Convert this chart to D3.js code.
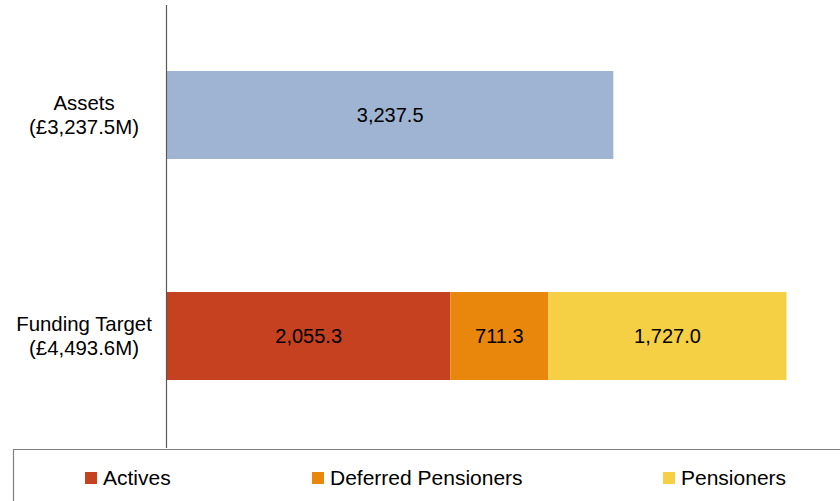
<!DOCTYPE html>
<html>
<head>
<meta charset="utf-8">
<script src="https://cdnjs.cloudflare.com/ajax/libs/d3/7.8.5/d3.min.js"></script>
<style>
  body { margin: 0; background: #fff; }
  text { font-family: "Liberation Sans", Arial, sans-serif; }
</style>
</head>
<body>
<div id="chart"></div>
<script>
// data
var categories = ["Assets", "Funding Target"];
var categoryTotals = ["£3,237.5M", "£4,493.6M"];
var seriesNames = ["Assets", "Actives", "Deferred Pensioners", "Pensioners"];
var assetsValues = [3237.5, 0];
var activesValues = [0, 2055.3];
var deferredValues = [0, 711.3];
var pensionersValues = [0, 1727.0];
var legendNames = ["Actives", "Deferred Pensioners", "Pensioners"];

var colors = ["#9fb4d3", "#c54120", "#e8870b", "#f5d045"];

var width = 840, height = 501;
var margin = {top: 5, left: 167, right: 20, bottom: 56};

var svg = d3.select("#chart")
  .append("svg")
    .attr("width", width)
    .attr("height", height);

var x = d3.scaleLinear()
  .domain([0, 4493.6])
  .range([margin.left, 786.5]);

var y = d3.scaleBand()
  .domain(categories)
  .range([26.8, 424.2])
  .paddingInner(0.602)
  .paddingOuter(0.2);

// build stack rows
var rows = categories.map(function(c, i) {
  return {cat: c, Assets: assetsValues[i], Actives: activesValues[i],
          "Deferred Pensioners": deferredValues[i], Pensioners: pensionersValues[i]};
});
var stack = d3.stack().keys(seriesNames)(rows);

stack.forEach(function(layer, k) {
  var g = svg.append("g");
  var segs = layer.filter(function(d) { return d[1] - d[0] > 0; });
  g.selectAll("rect")
    .data(segs)
    .enter().append("rect")
      .attr("x", function(d) { return x(d[0]); })
      .attr("width", function(d) { return x(d[1]) - x(d[0]); })
      .attr("y", function(d) { return y(d.data.cat); })
      .attr("height", y.bandwidth())
      .attr("fill", colors[k]);
  g.selectAll("text")
    .data(segs)
    .enter().append("text")
      .attr("x", function(d) { return (x(d[0]) + x(d[1])) / 2; })
      .attr("y", function(d) { return y(d.data.cat) + y.bandwidth() / 2 + 7; })
      .attr("text-anchor", "middle")
      .style("font-size", "20px")
      .attr("fill", "#000")
      .text(function(d) { return d3.format(",.1f")(d[1] - d[0]); });
});

// vertical axis line
svg.append("line")
  .attr("x1", margin.left - 0.5).attr("x2", margin.left - 0.5)
  .attr("y1", 5).attr("y2", 448)
  .attr("stroke", "#595959")
  .attr("stroke-width", 1.2);

// category labels
var labels = svg.append("g").selectAll("text")
  .data(categories)
  .enter().append("text")
    .attr("text-anchor", "middle")
    .style("font-size", "20.4px")
    .attr("fill", "#000")
    .attr("transform", function(d) { return "translate(84," + (y(d) + y.bandwidth() / 2) + ")"; });
labels.append("tspan").attr("x", 0).attr("y", -5).text(function(d) { return d; });
labels.append("tspan").attr("x", 0).attr("y", 19).text(function(d, i) { return "(" + categoryTotals[i] + ")"; });

// legend box
svg.append("path")
  .attr("d", "M13.5,501 V449.5 H840")
  .attr("fill", "none")
  .attr("stroke", "#7f7f7f")
  .attr("stroke-width", 1.2);

var legendX = [85, 312, 663];
var legend = svg.append("g").selectAll("g")
  .data(legendNames)
  .enter().append("g")
    .attr("transform", function(d, i) { return "translate(" + legendX[i] + ",472)"; });
legend.append("rect")
  .attr("width", 12).attr("height", 12)
  .attr("fill", function(d, i) { return colors[i + 1]; });
legend.append("text")
  .attr("x", 18).attr("y", 13)
  .style("font-size", "21px")
  .attr("fill", "#000")
  .text(function(d) { return d; });
</script>
</body>
</html>
